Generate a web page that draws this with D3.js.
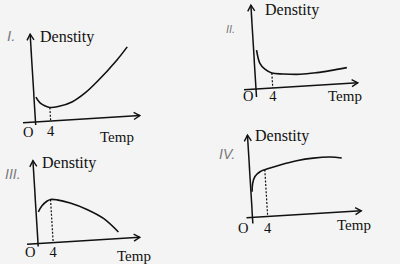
<!DOCTYPE html>
<html>
<head>
<meta charset="utf-8">
<script src="https://cdn.jsdelivr.net/npm/d3@7"></script>
<style>
  html, body { margin: 0; padding: 0; background: #f4f4f4; }
  svg { display: block; }
  .lbl { font-family: "Liberation Serif", "Times New Roman", serif; fill: #111; }
  .num { font-family: "Liberation Sans", sans-serif; font-style: italic; fill: #7a7a7a; }
</style>
</head>
<body>
<svg id="chart" width="400" height="264"></svg>
<script>
// Panel I: density dips to a minimum at 4, then rises
const tempsI = [0.5, 1.5, 2.8, 4, 6.2, 9.9, 13.5, 16.8, 22.4, 25.3];
const densI  = [6.2, 4.7, 3.85, 3.4, 3.5, 4.45, 6.5, 9.1, 14.25, 17.35];

// Panel II: steep fall, then a flat shallow rise
const tempsII = [0.7, 1.3, 2.4, 4, 6.6, 10.7, 14.7, 17.9, 21.9];
const densII  = [9.7, 6.35, 4.8, 3.75, 3.35, 3.0, 3.15, 3.45, 3.95];

// Panel III: rises to a maximum at 4, then falls
const tempsIII = [0.6, 1.6, 3, 4, 5.7, 9.1, 13.4, 17.6, 21.3];
const densIII  = [7.9, 9.3, 10.4, 10.8, 10.6, 9.6, 7.75, 5.25, 1.65];

// Panel IV: sharp rise then levelling off
const tempsIV = [0.3, 0.6, 1.3, 2.7, 4, 8.1, 12.5, 16.9, 21.4, 24.4];
const densIV  = [6.45, 8.55, 10.2, 11.3, 11.75, 12.7, 13.5, 13.9, 13.9, 13.5];

const yTitle = "Denstity";
const xTitle = "Temp";
const originLabel = "O";
const markTemp = 4;

// layout of each panel (scan is slightly tilted)
const panels = [
  { num: "I.",   temps: tempsI,   dens: densI,   ox: 35.5, oy: 122,   kx: 3.8, ky: 4,
    xLeft: 12.5, xLen: 104.5, yBelow: 3, yLen: 88,
    title: [4.5, -80], o: [-12.5, 15], four: 14, temp: [64.5, 20], numPos: [7, 41, 15] },
  { num: "II.",  temps: tempsII,  dens: densII,  ox: 256,  oy: 89,    kx: 4.2, ky: 4,
    xLeft: 12, xLen: 102, yBelow: 8, yLen: 84,
    title: [9, -74], o: [-13, 12], four: 12, temp: [72, 12], numPos: [226, 33, 11] },
  { num: "III.", temps: tempsIII, dens: densIII, ox: 38,   oy: 243.5, kx: 3.8, ky: 4,
    xLeft: 11, xLen: 102, yBelow: 3, yLen: 83,
    title: [4, -75.5], o: [-13, 13.5], four: 13.5, temp: [79, 17.5], numPos: [5, 179, 14] },
  { num: "IV.",  temps: tempsIV,  dens: densIV,  ox: 252.5, oy: 217.5, kx: 3.8, ky: 4,
    xLeft: 6, xLen: 109, yBelow: 6, yLen: 82.5,
    title: [2.5, -76.5], o: [-14.5, 15.5], four: 15.5, temp: [84.5, 12], numPos: [219, 159, 14] }
];

const tilt = -3.5;
const ink = "#111";
const svg = d3.select("#chart");

panels.forEach(p => {
  const xMax = p.xLen / p.kx, xMin = -p.xLeft / p.kx;
  const yMax = p.yLen / p.ky, yMin = -p.yBelow / p.ky;

  const x = d3.scaleLinear().domain([0, xMax]).range([0, p.xLen]);
  const y = d3.scaleLinear().domain([0, yMax]).range([0, -p.yLen]);

  const g = svg.append("g")
    .attr("transform", `translate(${p.ox},${p.oy}) rotate(${tilt})`);

  // axes
  g.append("line")
    .attr("x1", x(xMin)).attr("x2", x(xMax))
    .attr("y1", y(0)).attr("y2", y(0))
    .attr("stroke", ink).attr("stroke-width", 1.5);
  g.append("line")
    .attr("x1", x(0)).attr("x2", x(0))
    .attr("y1", y(yMin)).attr("y2", y(yMax))
    .attr("stroke", ink).attr("stroke-width", 1.5);

  // open arrow heads
  const xt = x(xMax), yt = y(yMax);
  g.append("path")
    .attr("d", `M${xt - 6},${-3.5} L${xt},0 L${xt - 6},${3.5}`)
    .attr("fill", "none").attr("stroke", ink).attr("stroke-width", 1.4);
  g.append("path")
    .attr("d", `M${-3.5},${yt + 6} L0,${yt} L${3.5},${yt + 6}`)
    .attr("fill", "none").attr("stroke", ink).attr("stroke-width", 1.4);

  // curve
  const pts = p.temps.map((t, i) => [t, p.dens[i]]);
  const line = d3.line()
    .x(d => x(d[0]))
    .y(d => y(d[1]))
    .curve(d3.curveCatmullRom.alpha(0.5));
  g.append("path")
    .datum(pts)
    .attr("d", line)
    .attr("fill", "none")
    .attr("stroke", ink)
    .attr("stroke-width", 1.6);

  // dotted drop line at 4
  const dAt4 = p.dens[p.temps.indexOf(markTemp)];
  g.append("line")
    .attr("x1", x(markTemp)).attr("x2", x(markTemp))
    .attr("y1", y(dAt4)).attr("y2", y(0))
    .attr("stroke", ink).attr("stroke-width", 1.2)
    .attr("stroke-dasharray", "2,1.6");

  // labels (kept upright)
  svg.append("text").attr("class", "lbl")
    .attr("x", p.ox + p.title[0]).attr("y", p.oy + p.title[1])
    .attr("font-size", 16).text(yTitle);
  svg.append("text").attr("class", "lbl")
    .attr("x", p.ox + p.o[0]).attr("y", p.oy + p.o[1])
    .attr("font-size", 14.5).text(originLabel);
  svg.append("text").attr("class", "lbl")
    .attr("x", p.ox + x(markTemp)).attr("y", p.oy + p.four)
    .attr("text-anchor", "middle")
    .attr("font-size", 14.5).text(markTemp);
  svg.append("text").attr("class", "lbl")
    .attr("x", p.ox + p.temp[0]).attr("y", p.oy + p.temp[1])
    .attr("font-size", 15).text(xTitle);

  svg.append("text").attr("class", "num")
    .attr("x", p.numPos[0]).attr("y", p.numPos[1])
    .attr("font-size", p.numPos[2]).text(p.num);
});
</script>
</body>
</html>
